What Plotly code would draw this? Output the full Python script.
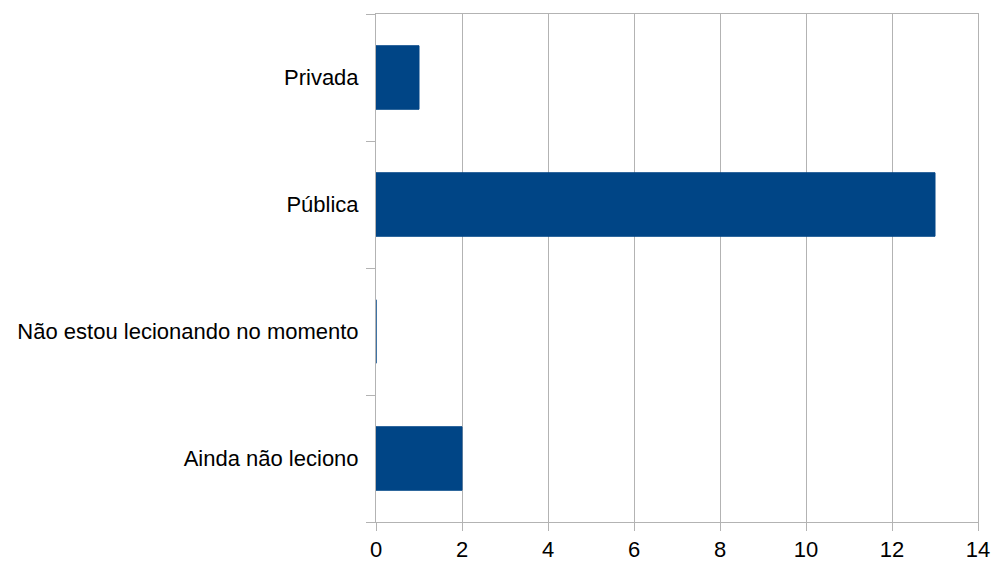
import plotly.graph_objects as go

categories = ["Privada", "Pública", "Não estou lecionando no momento", "Ainda não leciono"]
values = [1, 13, 0, 2]
x_ticks = [0, 2, 4, 6, 8, 10, 12, 14]

fig = go.Figure(
    go.Bar(
        y=categories,
        x=values,
        orientation="h",
        marker=dict(color="#004586", line=dict(color="#004586", width=1)),
        hoverinfo="x+y",
    )
)

fig.update_layout(
    width=996,
    height=561,
    margin=dict(l=376, r=18, t=14, b=39),
    plot_bgcolor="white",
    paper_bgcolor="white",
    bargap=0.5,
    font=dict(family="Liberation Sans, Arial, sans-serif", size=22, color="#000000"),
    showlegend=False,
)

fig.update_xaxes(
    range=[0, 14],
    tickvals=x_ticks,
    showgrid=True,
    gridcolor="#b3b3b3",
    gridwidth=1,
    zeroline=False,
    showline=True,
    linecolor="#b3b3b3",
    linewidth=1,
    mirror=True,
    ticks="outside",
    ticklen=8,
    tickcolor="#b3b3b3",
    ticklabelstandoff=0,
    tickfont=dict(size=22),
    automargin=False,
)

fig.update_yaxes(
    categoryorder="array",
    categoryarray=categories[::-1],
    showline=True,
    linecolor="#b3b3b3",
    linewidth=1,
    mirror=True,
    ticks="outside",
    tickson="boundaries",
    ticklen=9,
    tickcolor="#b3b3b3",
    ticklabelstandoff=12,
    showgrid=False,
    tickfont=dict(size=22),
    automargin=False,
)

fig.write_html("out.html")
